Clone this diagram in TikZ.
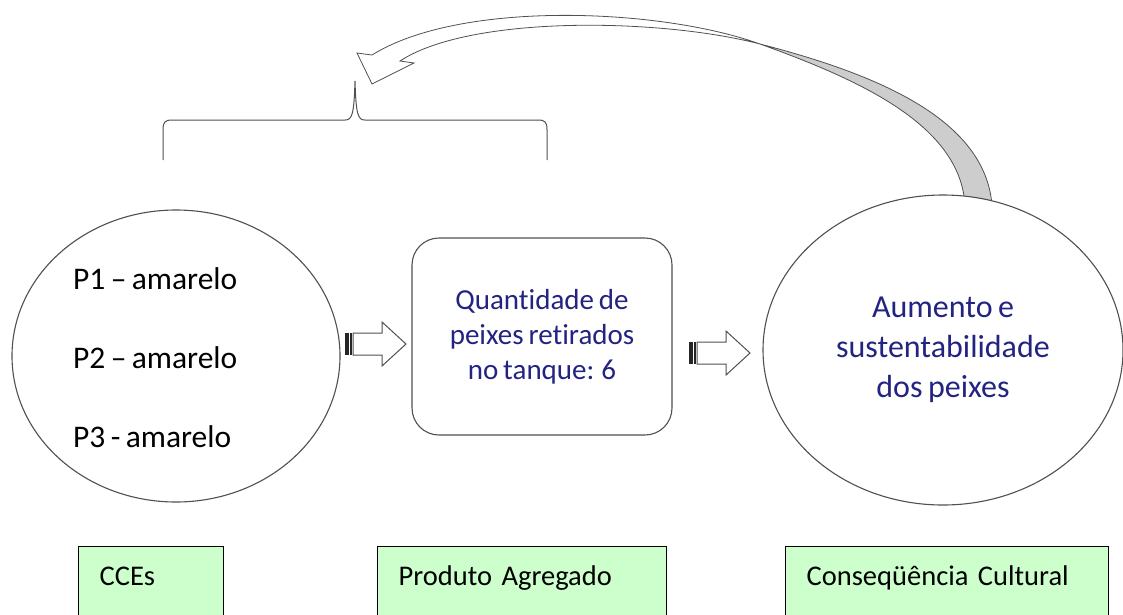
\documentclass[tikz,border=0pt]{standalone}
\usepackage{fontspec}
\setmainfont{Carlito}[Ligatures={NoCommon}, WordSpace=0.75]
\usetikzlibrary{shapes.geometric,positioning}
\definecolor{navytext}{RGB}{35,35,130}
\definecolor{boxgreen}{RGB}{204,255,204}
\definecolor{bandgray}{RGB}{205,205,205}
\definecolor{edgegray}{RGB}{80,80,80}
\tikzset{
	bubble/.style={ellipse, draw=edgegray, line width=1.1pt, fill=white, inner sep=0pt},
	roundbox/.style={rectangle, rounded corners=27pt, draw=edgegray, line width=1.1pt, fill=white,
		align=center, text=navytext, font=\fontsize{29}{35}\selectfont},
	labelbox/.style={rectangle, draw=black, line width=1.3pt, fill=boxgreen, anchor=north west,
		align=left, inner xsep=21pt, inner ysep=19pt, text height=20pt, text depth=50pt,
		font=\fontsize{28.5}{34}\selectfont},
	itemtext/.style={anchor=base west, inner sep=0pt, font=\fontsize{31.5}{36}\selectfont},
	stripedarrow/.pic={
		\fill[black!85] (0,-11) rectangle (3.5,11);
		\fill[black!85] (5,-11) rectangle (7,11);
		\draw[edgegray, line width=1pt, fill=white] (8,-11) -- (37,-11) -- (37,-22) -- (61,0)
			-- (37,22) -- (37,11) -- (8,11) -- cycle;
	},
}

\begin{document}
\begin{tikzpicture}[x=1pt, y=-1pt]
	\useasboundingbox (0,0) rectangle (1123,614);
	\clip (0,0) rectangle (1123,614);

	% back of the curved arrow
	\filldraw[fill=bandgray, draw=edgegray, line width=0.8pt] (965,205) .. controls (960,125) and (860,80) .. (760,44)
		.. controls (880,75) and (985,120) .. (992,205) -- cycle;

	% the three stages
	\node[bubble, minimum width=328, minimum height=292] (cce) at (176,356) {};
	\node[roundbox, minimum width=260, minimum height=197] (prod) at (542,336.5)
		{Quantidade de\\peixes retirados\\no tanque: 6};
	\node[bubble, minimum width=360, minimum height=310, text=navytext, align=center,
		font=\fontsize{32}{40}\selectfont] (cons) at (943,350) {Aumento e\\sustentabilidade\\dos peixes};

	\node[itemtext] (p1) at (73,289) {P1 -- amarelo};
	\node[itemtext] (p2) at (73,368) {P2 -- amarelo};
	\node[itemtext] (p3) at (73,447) {P3 - amarelo};

	\pic at (345,344) {stripedarrow};
	\pic at (689,353) {stripedarrow};

	% front of the curved arrow
	\filldraw[fill=white, draw=edgegray, line width=0.8pt] (760,44) .. controls (660,8) and (460,0) .. (372,55)
		-- (357,53) -- (372,84) -- (414,63) -- (400,61) .. controls (470,15) and (660,18) .. (760,44) -- cycle;

	% brace
	\draw[edgegray, line width=1pt] (163,160) -- (163,130) .. controls (163,122) and (165,120) .. (172,120)
		-- (345,120) .. controls (352,120) and (354,115) .. (355,81) .. controls (356,115) and (358,120) .. (365,120)
		-- (538,120) .. controls (545,120) and (547,122) .. (547,130) -- (547,160);

	% labels
	\node[labelbox, text width=103] (lcce) at (78,546) {CCEs};
	\node[labelbox, text width=247] (lprod) at (377,546) {Produto Agregado};
	\node[labelbox, text width=281] (lcons) at (785,546) {Conseqüência Cultural};
\end{tikzpicture}
\end{document}
